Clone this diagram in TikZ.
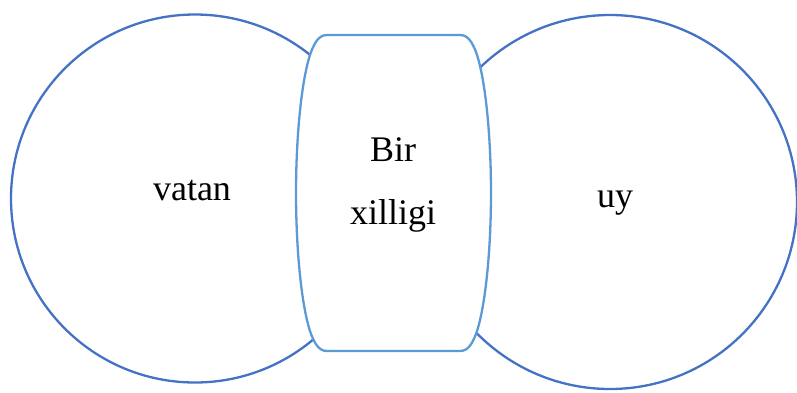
\documentclass[tikz,border=0pt]{standalone}
\usepackage{fontspec}
\setmainfont{Liberation Serif}
\definecolor{ringblue}{HTML}{4472C4}
\definecolor{linkblue}{HTML}{5B9BD5}

\begin{document}
\begin{tikzpicture}[x=1pt,y=-1pt,
    ring/.style={circle,draw=ringblue,line width=2.3pt,inner sep=0pt},
    bridge/.style={draw=linkblue,line width=2.3pt,fill=white},
    word/.style={font={\fontsize{36}{63}\selectfont},inner sep=0pt}]

        \useasboundingbox (0,0) rectangle (797,392);

        \node[ring,minimum size=368pt] (vatan) at (195,198.5) {};
        \node[ring,minimum size=374pt] (uy) at (610,202) {};

        % middle shape sitting over both circles
        \draw[bridge] (327,35) -- (460,35)
            .. controls (468,35) and (472,42) .. (476,52)
            .. controls (486,80) and (491,140) .. (491,193)
            .. controls (491,246) and (486,306) .. (476,334)
            .. controls (472,344) and (468,351) .. (460,351)
            -- (327,351)
            .. controls (319,351) and (315,344) .. (311,334)
            .. controls (301,306) and (296,246) .. (296,193)
            .. controls (296,140) and (301,80) .. (311,52)
            .. controls (315,42) and (319,35) .. (327,35) -- cycle;
        \coordinate (mid) at (393,185);

        \node[word,anchor=base] (t_vatan) at (192,200) {vatan};
        \node[word,anchor=base] (t_uy) at (615,207) {uy};
        \node[word,align=center] (t_mid) at (mid) {Bir\\xilligi};

    \end{tikzpicture}
\end{document}
